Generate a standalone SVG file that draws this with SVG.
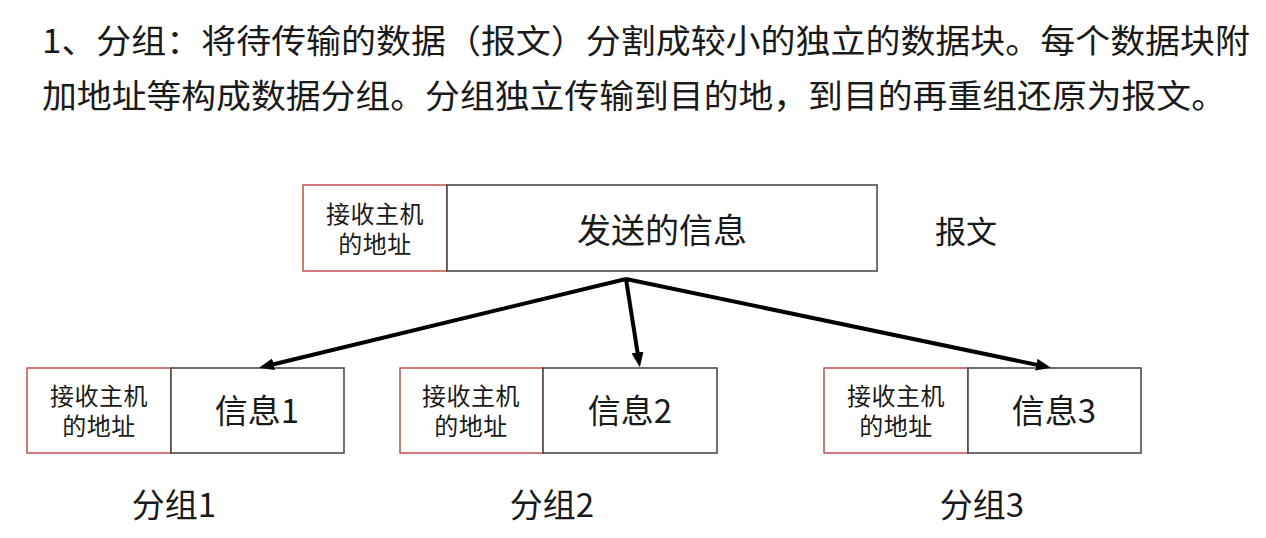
<svg xmlns="http://www.w3.org/2000/svg" width="1266" height="538" viewBox="0 0 1266 538">
  <style>
    text { font-family: "Microsoft YaHei", "Noto Sans CJK SC", "Noto Sans", sans-serif; fill: #1a1a1a; }
    .addr { fill: #ffffff; stroke: #c0504d; stroke-width: 1.5; }
    .body { fill: #ffffff; stroke: #404040; stroke-width: 1.5; }
    .small { font-family: "Liberation Sans", "Noto Sans CJK SC", sans-serif; font-size: 24px; text-anchor: middle; letter-spacing: 0.5px; }
    .big { font-size: 33px; text-anchor: middle; }
    .cap { font-size: 33px; text-anchor: middle; }
    .title { font-size: 33px; }
    .conn { stroke: #000; stroke-width: 4; fill: none; marker-end: url(#ah); }
  </style>
  <defs>
    <marker id="ah" markerUnits="userSpaceOnUse" viewBox="0 0 15 12" markerWidth="15" markerHeight="12" refX="1" refY="6" orient="auto">
      <path d="M0,0 L15,6 L0,12 Z" fill="#000"/>
    </marker>
  </defs>
  <rect width="1266" height="538" fill="#ffffff"/>

  <g id="title">
    <text class="title" x="42" y="53" textLength="1208" lengthAdjust="spacingAndGlyphs">1、分组：将待传输的数据（报文）分割成较小的独立的数据块。每个数据块附</text>
    <text class="title" x="42" y="108" textLength="1184" lengthAdjust="spacingAndGlyphs">加地址等构成数据分组。分组独立传输到目的地，到目的再重组还原为报文。</text>
  </g>

  <g id="message">
    <rect class="addr" x="303" y="185" width="144" height="86"/>
    <rect class="body" x="447" y="185" width="430" height="86"/>
    <text class="small" x="375" y="223"><tspan x="375" y="223">接收主机</tspan><tspan x="375" y="253">的地址</tspan></text>
    <text class="big" x="662" y="243" style="font-size:34px">发送的信息</text>
  </g>
  <g id="label-message">
    <text class="cap" x="966" y="243" style="font-size:31px">报文</text>
  </g>

  <g id="packet1">
    <rect class="addr" x="27" y="368" width="144" height="85"/>
    <rect class="body" x="171" y="368" width="173" height="85"/>
    <text class="small" x="99" y="405"><tspan x="99" y="405">接收主机</tspan><tspan x="99" y="435">的地址</tspan></text>
    <text class="big" x="257" y="423">信息1</text>
  </g>
  <g id="packet2">
    <rect class="addr" x="400" y="368" width="143" height="85"/>
    <rect class="body" x="543" y="368" width="174" height="85"/>
    <text class="small" x="471" y="405"><tspan x="471" y="405">接收主机</tspan><tspan x="471" y="435">的地址</tspan></text>
    <text class="big" x="630" y="423">信息2</text>
  </g>
  <g id="packet3">
    <rect class="addr" x="824" y="368" width="144" height="85"/>
    <rect class="body" x="968" y="368" width="173" height="85"/>
    <text class="small" x="896" y="405"><tspan x="896" y="405">接收主机</tspan><tspan x="896" y="435">的地址</tspan></text>
    <text class="big" x="1054" y="423">信息3</text>
  </g>

  <g id="captions">
    <text class="cap" x="174" y="517">分组1</text>
    <text class="cap" x="552" y="517">分组2</text>
    <text class="cap" x="982" y="517">分组3</text>
  </g>

  <g id="connectors">
    <path class="conn" d="M626,279 L272.6,364.5"/>
    <path class="conn" d="M626,279 L637.7,353.4"/>
    <path class="conn" d="M626,279 L1037.3,364.9"/>
  </g>
</svg>
